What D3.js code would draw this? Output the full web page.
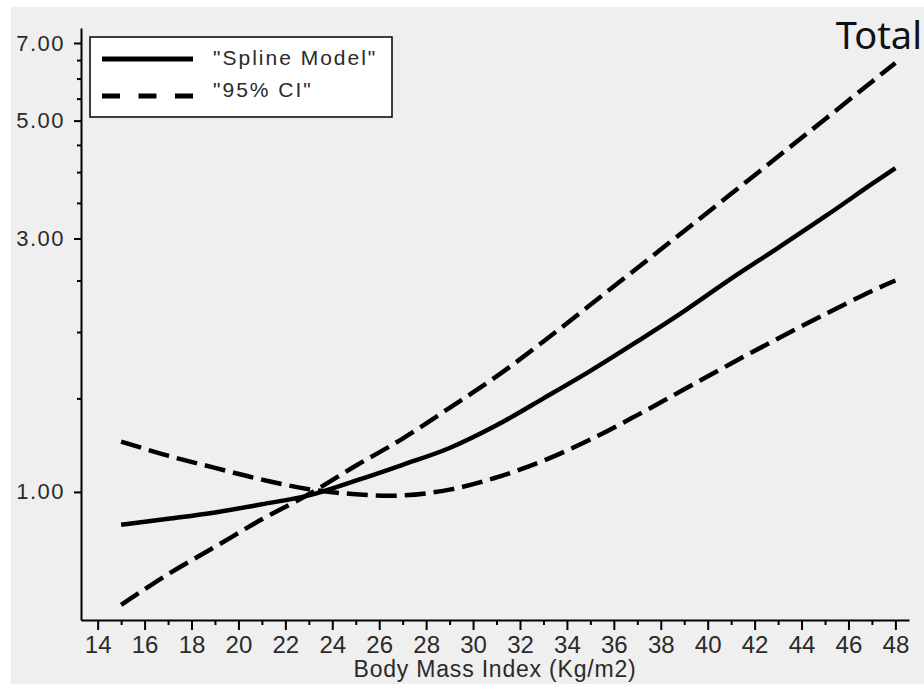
<!DOCTYPE html>
<html>
<head>
<meta charset="utf-8">
<script src="https://cdn.jsdelivr.net/npm/d3@7"></script>
<style>
  html, body { margin: 0; padding: 0; background: #ffffff; }
  svg { display: block; }
  text { font-family: "Liberation Sans", Arial, sans-serif; }
</style>
</head>
<body>
<svg id="chart" width="924" height="684"></svg>
<script>
// ---- data ----
const bmi = [15, 17, 19, 21, 23, 25, 27, 29, 31, 33, 35, 37, 39, 41, 43, 45, 47, 48];
const splineModel = [0.867, 0.89, 0.915, 0.948, 0.985, 1.05, 1.125, 1.21, 1.335, 1.50, 1.69, 1.92, 2.19, 2.52, 2.88, 3.30, 3.80, 4.07];
const upperCI = [0.613, 0.70, 0.788, 0.888, 0.99, 1.12, 1.26, 1.44, 1.65, 1.92, 2.25, 2.64, 3.10, 3.64, 4.28, 5.03, 5.92, 6.42];
const lowerCI = [1.244, 1.17, 1.11, 1.055, 1.012, 0.99, 0.985, 1.01, 1.065, 1.145, 1.255, 1.395, 1.56, 1.745, 1.945, 2.16, 2.39, 2.50];

const xMajorTicks = [14, 16, 18, 20, 22, 24, 26, 28, 30, 32, 34, 36, 38, 40, 42, 44, 46, 48];
const xMinorTicks = [15, 17, 19, 21, 23, 25, 27, 29, 31, 33, 35, 37, 39, 41, 43, 45, 47];
const yMajorTicks = [1, 3, 5, 7];
const yMinorTicks = [1.5, 2, 2.5, 3.5, 4, 4.5, 5.5, 6, 6.5];

const legendLabels = ['"Spline Model"', '"95% CI"'];
const xTitle = "Body Mass Index (Kg/m2)";
const panelTitle = "Total";

// ---- drawing ----
const svg = d3.select("#chart");

svg.append("rect")
  .attr("x", 11).attr("y", 7)
  .attr("width", 913).attr("height", 677)
  .attr("fill", "#efefef");

const x = d3.scaleLinear().domain([13.29, 48.58]).range([81, 909]);
const y = d3.scaleLog().domain([0.574, 7.47]).range([620, 28]);

// x axis
const gx = svg.append("g").attr("transform", "translate(0,620)");
gx.call(d3.axisBottom(x).tickValues(xMajorTicks).tickSize(10).tickSizeOuter(0).tickPadding(6).tickFormat(d3.format("d")));
const gxMinor = svg.append("g").attr("transform", "translate(0,620)");
gxMinor.call(d3.axisBottom(x).tickValues(xMinorTicks).tickSize(5).tickSizeOuter(0).tickFormat(""));
gxMinor.select(".domain").remove();

// y axis
const gy = svg.append("g").attr("transform", "translate(81,0)");
gy.call(d3.axisLeft(y).tickValues(yMajorTicks).tickSize(7).tickSizeOuter(0).tickPadding(9).tickFormat(d3.format(".2f")));
const gyMinor = svg.append("g").attr("transform", "translate(81,0)");
gyMinor.call(d3.axisLeft(y).tickValues(yMinorTicks).tickSize(4).tickSizeOuter(0).tickFormat(""));
gyMinor.select(".domain").remove();

svg.selectAll(".domain").attr("stroke", "#000").attr("stroke-width", 2);
svg.selectAll(".tick line").attr("stroke", "#000").attr("stroke-width", 2);

gx.selectAll(".tick text")
  .attr("fill", "#2a2a2a")
  .style("font-size", "24px")
  .style("font-family", "'Liberation Sans', Arial, sans-serif")
  .attr("dy", "0.71em");
gy.selectAll(".tick text")
  .attr("fill", "#2a2a2a")
  .style("font-size", "22px")
  .style("letter-spacing", "1.5px")
  .style("font-family", "'Liberation Sans', Arial, sans-serif");

// x title
svg.append("text")
  .attr("x", 495).attr("y", 677)
  .attr("text-anchor", "middle")
  .attr("fill", "#2a2a2a")
  .style("font-size", "23px")
  .style("letter-spacing", "0.8px")
  .text(xTitle);

// lines
const line = d3.line()
  .x((d, i) => x(bmi[i]))
  .y(d => y(d))
  .curve(d3.curveCatmullRom.alpha(0.5));

const plot = svg.append("g");
plot.append("path").datum(upperCI)
  .attr("d", line).attr("fill", "none").attr("stroke", "#000")
  .attr("stroke-width", 4.5).attr("stroke-dasharray", "21,8");
plot.append("path").datum(lowerCI)
  .attr("d", line).attr("fill", "none").attr("stroke", "#000")
  .attr("stroke-width", 4.5).attr("stroke-dasharray", "21,8");
plot.append("path").datum(splineModel)
  .attr("d", line).attr("fill", "none").attr("stroke", "#000")
  .attr("stroke-width", 4.5);

// legend
const lg = svg.append("g");
lg.append("rect")
  .attr("x", 90).attr("y", 37).attr("width", 302).attr("height", 80)
  .attr("fill", "#ffffff").attr("stroke", "#000").attr("stroke-width", 1.5);
lg.append("line")
  .attr("x1", 102).attr("x2", 193).attr("y1", 59).attr("y2", 59)
  .attr("stroke", "#000").attr("stroke-width", 5);
lg.append("line")
  .attr("x1", 102).attr("x2", 193).attr("y1", 96).attr("y2", 96)
  .attr("stroke", "#000").attr("stroke-width", 5).attr("stroke-dasharray", "18,18.5");
lg.selectAll("text.leg").data(legendLabels).enter().append("text")
  .attr("class", "leg")
  .attr("x", 213)
  .attr("y", (d, i) => i === 0 ? 65 : 97)
  .attr("fill", "#2a2a2a")
  .style("font-size", "21px")
  .style("letter-spacing", "2px")
  .text(d => d);

// panel title
svg.append("text")
  .attr("x", 922).attr("y", 49)
  .attr("text-anchor", "end")
  .attr("fill", "#111")
  .style("font-family", "'Noto Sans', 'DejaVu Sans', sans-serif")
  .style("font-size", "38px")
  .text(panelTitle);
</script>
</body>
</html>
